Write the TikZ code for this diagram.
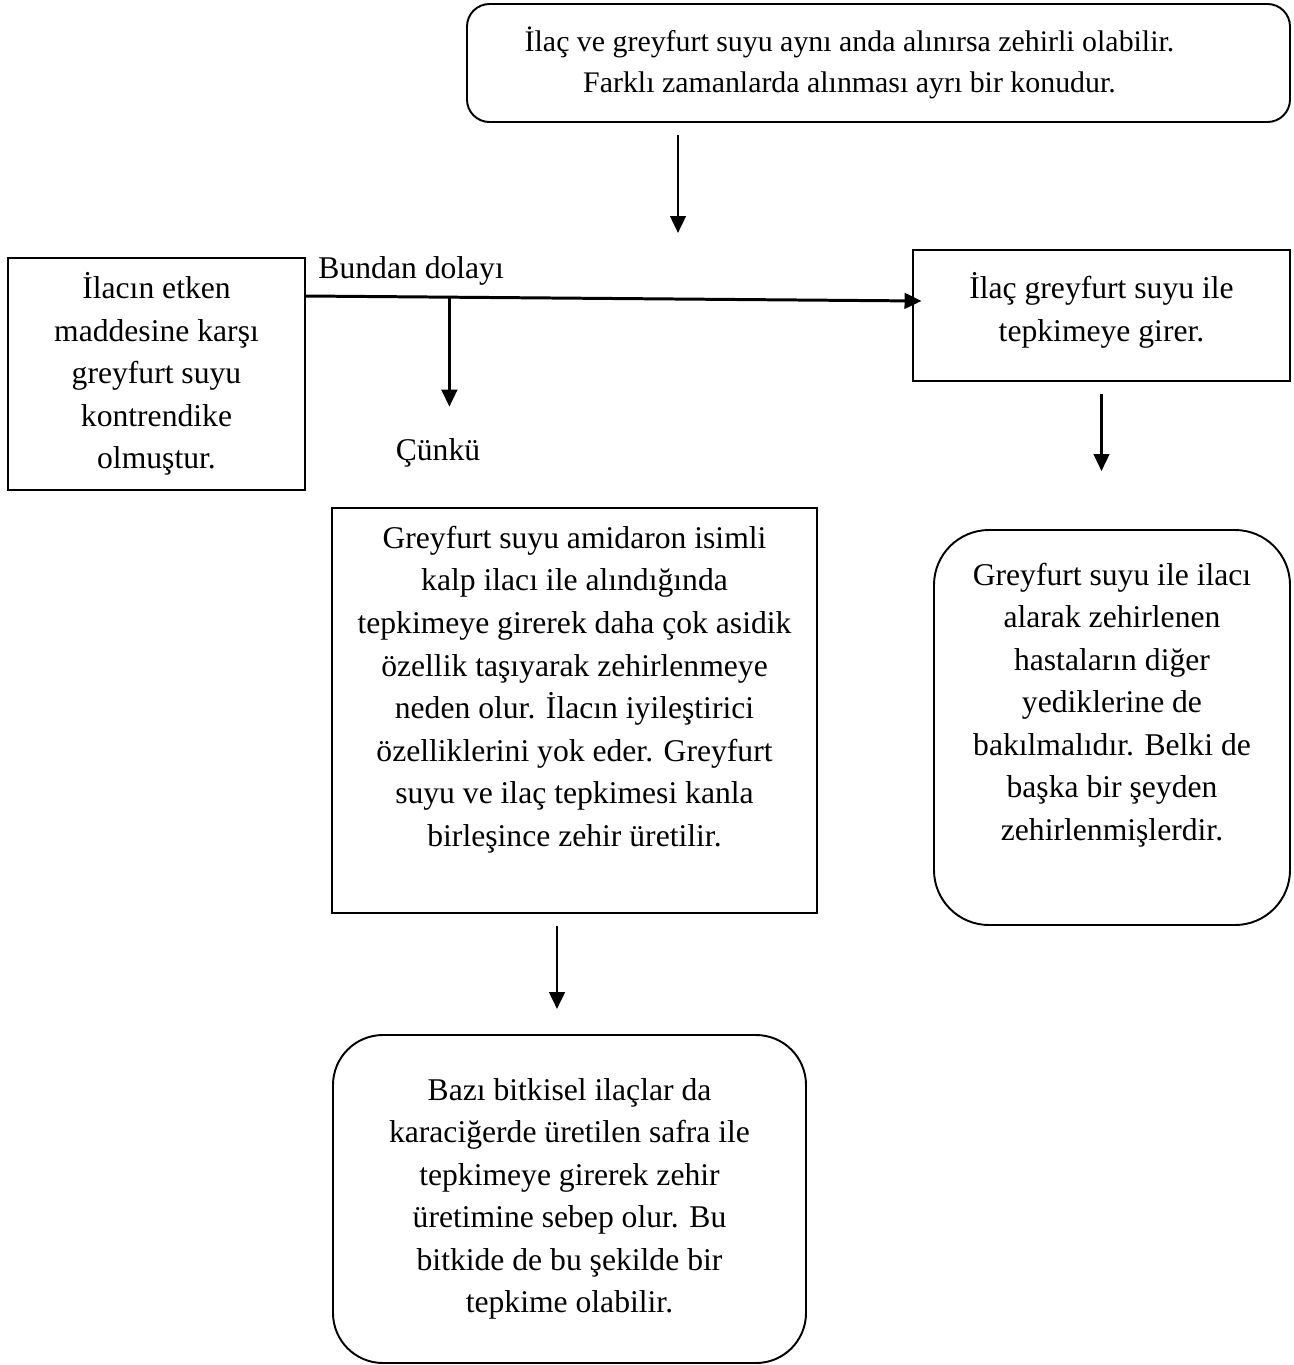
\documentclass[tikz,border=0pt]{standalone}
\usepackage{fontspec}
\setmainfont{Liberation Serif}
\usepackage{tikz}
\usetikzlibrary{positioning,arrows.meta,calc}
\definecolor{gfInk}{HTML}{000000}
\definecolor{gfWhite}{HTML}{FFFFFF}
\tikzset{
  gf-box/.style={
    draw=gfInk, line width=1.1pt, fill=gfWhite,
    font=\fontsize{18pt}{24.2pt}\selectfont, align=center,
    inner sep=0pt
  },
  gf-round/.style={gf-box, rounded corners=1.05cm},
  gf-flow/.style={-{Triangle[length=0.34cm,width=0.31cm]}, line width=1.7pt, draw=gfInk},
  gf-label/.style={font=\fontsize{18pt}{24.2pt}\selectfont, inner sep=0pt, text=gfInk}
}

\begin{document}
\begin{tikzpicture}[x=0.2mm, y=-0.2mm]
\useasboundingbox (0,0) rectangle (1294,1365);
\node[gf-box, rounded corners=0.45cm, font=\fontsize{17pt}{23pt}\selectfont]
  (top) at (878.5,63)
  {\parbox[c][2.36cm][c]{15.3cm}{\centering
  İlaç ve greyfurt suyu aynı anda alınırsa zehirli olabilir.\\
  Farklı zamanlarda alınması ayrı bir konudur.}\hspace{1.16cm}};
\node[gf-box, minimum width=5.94cm, minimum height=4.64cm] (left) at (156.5,374)
  {İlacın etken\\ maddesine karşı\\ greyfurt suyu\\ kontrendike\\ olmuştur.};
\node[gf-box] (rtop) at (1101.5,315.5)
  {\parbox[c][2.62cm][c]{7.54cm}{\centering
  İlaç greyfurt suyu ile\\ tepkimeye girer.\par\vspace{0.2cm}}};
\node[gf-box] (mid) at (574.5,710.5)
  {\parbox[c][8.1cm][c]{9.7cm}{\centering
  Greyfurt suyu amidaron isimli\\ kalp ilacı ile alındığında\\
  tepkimeye girerek daha çok asidik\\ özellik taşıyarak zehirlenmeye\\
  neden olur. İlacın iyileştirici\\ özelliklerini yok eder. Greyfurt\\
  suyu ve ilaç tepkimesi kanla\\ birleşince zehir üretilir.\par\vspace{0.84cm}}};
\node[gf-round, rounded corners=1.1cm] (rround) at (1112,727.5)
  {\parbox[c][7.9cm][c]{7.12cm}{\centering
  Greyfurt suyu ile ilacı\\ alarak zehirlenen\\ hastaların diğer\\
  yediklerine de\\ bakılmalıdır. Belki de\\ başka bir şeyden\\
  zehirlenmişlerdir.\par\vspace{0.9cm}}};
\node[gf-round, rounded corners=1cm, minimum width=9.46cm, minimum height=6.56cm]
  (bot) at (569.5,1199)
  {Bazı bitkisel ilaçlar da\\ karaciğerde üretilen safra ile\\
  tepkimeye girerek zehir\\ üretimine sebep olur. Bu\\
  bitkide de bu şekilde bir\\ tepkime olabilir.};
\node[gf-label, anchor=base] (cunku) at (438,460) {Çünkü};

\coordinate (topend) at (678,233);
\coordinate (midout) at ([xshift=-0.35cm]mid.south);

\draw[gf-flow, shorten <=0.24cm] (top.south -| topend) -- (topend);
\draw[gf-flow] ([yshift=1.56cm]left.east)
  -- node[gf-label, pos=0, anchor=base west, xshift=0.22cm, yshift=0.36cm]{Bundan dolayı}
  coordinate[pos=0.233] (split)
  ([xshift=0.19cm,yshift=0.29cm]rtop.west);
\draw[gf-flow, shorten >=0.62cm] (split) -- (split |- cunku.north);
\draw[gf-flow, shorten <=0.24cm, shorten >=1.16cm] (rtop.south) -- (rtop.south |- rround.north);
\draw[gf-flow, shorten <=0.24cm, shorten >=0.5cm] (midout) -- (midout |- bot.north);
\end{tikzpicture}
\end{document}
